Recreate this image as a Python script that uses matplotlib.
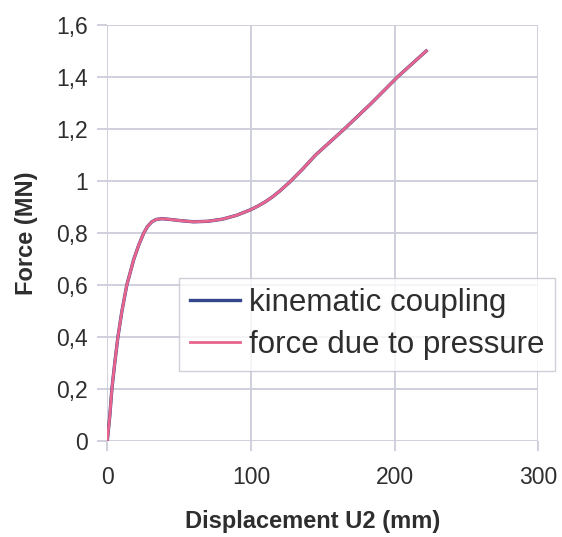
import numpy as np
import matplotlib.pyplot as plt

plt.rcParams['font.family'] = ['Liberation Sans', 'DejaVu Sans']

# Displacement U2 (mm) and force (MN) for both load cases
disp = [0, 1.8, 3.2, 5.2, 7.4, 10.2, 13.6, 18.5, 22, 25.4, 28, 31, 34, 38, 44, 50, 60,
        70, 80, 90, 100, 105, 110, 115, 120, 127, 136, 145, 155, 165, 184, 202, 222]
force_kin = [0, 0.10, 0.20, 0.30, 0.40, 0.50, 0.60, 0.70, 0.755, 0.80, 0.825, 0.843, 0.852,
             0.855, 0.852, 0.848, 0.843, 0.845, 0.853, 0.868, 0.89, 0.904, 0.92, 0.939,
             0.961, 0.996, 1.046, 1.10, 1.15, 1.20, 1.30, 1.40, 1.50]
force_pres = [0, 0.10, 0.20, 0.30, 0.40, 0.50, 0.60, 0.70, 0.755, 0.80, 0.825, 0.843, 0.852,
              0.855, 0.852, 0.848, 0.843, 0.845, 0.853, 0.868, 0.89, 0.904, 0.92, 0.939,
              0.961, 0.996, 1.046, 1.10, 1.15, 1.20, 1.30, 1.40, 1.50]

xticks = [0, 100, 200, 300]
yticks = [0, 0.2, 0.4, 0.6, 0.8, 1.0, 1.2, 1.4, 1.6]
ytick_labels = ['0', '0,2', '0,4', '0,6', '0,8', '1', '1,2', '1,4', '1,6']

fig = plt.figure(figsize=(5.62, 5.37), dpi=100)
ax = fig.add_axes([0.1909, 0.1788, 0.7669, 0.7747])

ax.plot(disp, force_kin, color='#34468c', lw=2.4, solid_joinstyle='round',
        label='kinematic coupling')
ax.plot(disp, force_pres, color='#e9658d', lw=2.0, solid_joinstyle='round',
        label='force due to pressure')

ax.set_xlim(0, 300)
ax.set_ylim(0, 1.6)
ax.set_xticks(xticks)
ax.set_yticks(yticks)
ax.set_yticklabels(ytick_labels)
ax.grid(True, color='#cdcdda', lw=1.3)
ax.set_axisbelow(True)
for s in ax.spines.values():
    s.set_visible(False)
ax.tick_params(colors='#cdcdda', labelcolor='#2e2e2e', labelsize=16.5, length=7, width=1.3)
ax.tick_params(axis='x', pad=11)
ax.tick_params(axis='y', pad=7)

ax.set_xlabel('Displacement U2 (mm)', fontsize=17, fontweight='bold', color='#2e2e2e')
ax.xaxis.set_label_coords(0.476, -0.165)
ax.set_ylabel('Force (MN)', fontsize=17, fontweight='bold', color='#2e2e2e', labelpad=13)

leg = ax.legend(loc='upper left', bbox_to_anchor=(0.167, 0.3925), fontsize=22.5, frameon=True,
                fancybox=False, edgecolor='#c4c4cc', handlelength=1.6, handletextpad=0.3,
                borderpad=0.34, labelspacing=0.38, borderaxespad=0)
leg.get_frame().set_linewidth(1.0)
for t in leg.get_texts():
    t.set_color('#2e2e2e')

fig.savefig('out.png', dpi=100, facecolor='white')
